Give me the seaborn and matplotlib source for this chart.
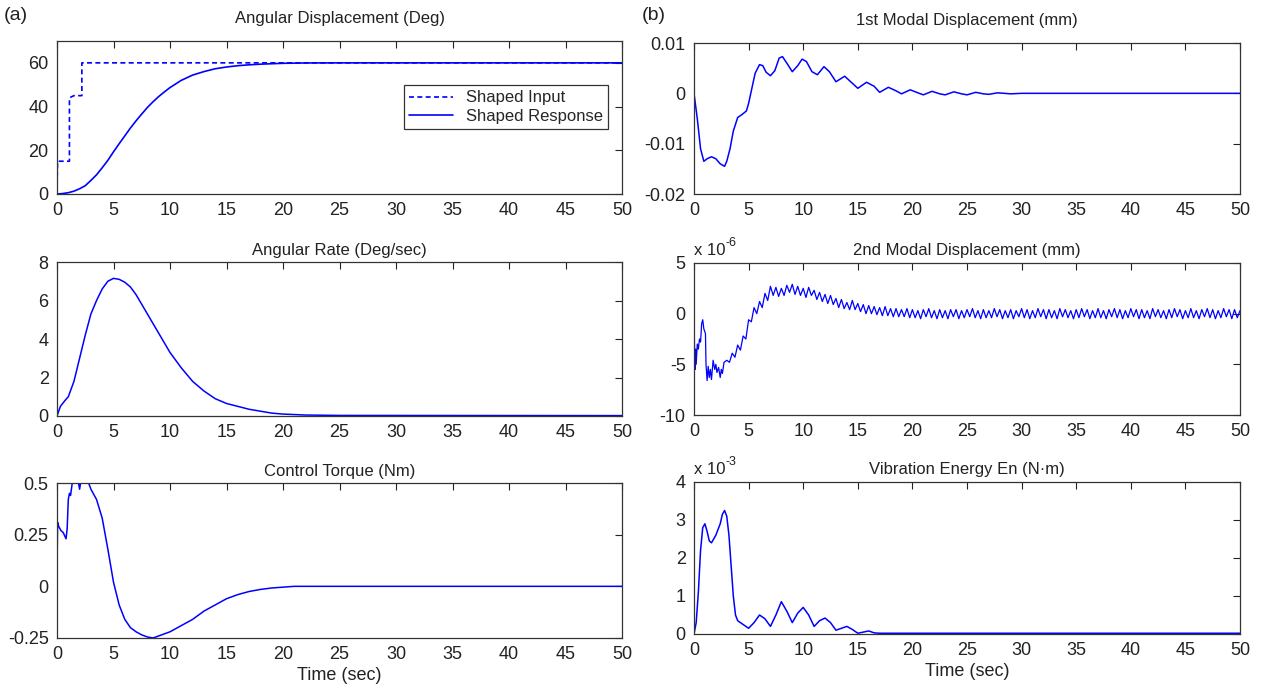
import numpy as np
import matplotlib
matplotlib.use("Agg")
import matplotlib.pyplot as plt
import seaborn as sns

# --- Data ---
XTICKS = list(range(0, 51, 5))

# Angular displacement (deg)
input_t = [0, 0.02, 0.05, 1.1, 1.1, 1.5, 2.2, 2.2, 50]
input_deg = [8, 8, 15, 15, 44, 45, 45, 60, 60]
resp_t = [0, 0.5, 1, 1.5, 2, 2.5, 3, 3.5, 4, 4.5, 5, 5.5, 6, 6.5, 7, 7.5, 8, 8.5, 9, 9.5,
          10, 11, 12, 13, 14, 15, 16, 17, 18, 19, 20, 22, 25, 50]
resp_deg = [0, 0.2, 0.6, 1.3, 2.4, 3.8, 6.2, 8.8, 12.0, 15.4, 19.3, 23.0, 26.6, 30.2, 33.5,
            36.6, 39.6, 42.2, 44.6, 46.7, 48.7, 52.0, 54.4, 56.0, 57.3, 58.1, 58.7, 59.1,
            59.4, 59.6, 59.8, 59.95, 60, 60]

# Angular rate (deg/sec)
rate_t = [0, 0.3, 0.7, 1, 1.5, 2, 2.5, 3, 3.5, 4, 4.5, 5, 5.5, 6, 6.5, 7, 7.5, 8, 8.5, 9,
          9.5, 10, 11, 12, 13, 14, 15, 16, 17, 18, 19, 20, 22, 25, 50]
rate_val = [0, 0.5, 0.8, 1.0, 1.8, 3.0, 4.2, 5.3, 6.0, 6.6, 7.0, 7.15, 7.1, 6.95, 6.7, 6.3,
            5.8, 5.3, 4.8, 4.3, 3.8, 3.3, 2.5, 1.8, 1.3, 0.9, 0.65, 0.5, 0.35, 0.25, 0.15,
            0.1, 0.05, 0.03, 0.02]

# Control torque (Nm)
torque_t = [0, 0.02, 0.05, 0.15, 0.35, 0.55, 0.8, 0.9, 1.0, 1.1, 1.2, 1.35, 1.6, 1.8, 2.0,
            2.2, 2.5, 2.8, 3.0, 3.5, 4.0, 4.5, 5.0, 5.5, 6.0, 6.5, 7.0, 7.5, 8.0, 8.5, 9.0,
            10, 11, 12, 13, 14, 15, 16, 17, 18, 19, 20, 21, 50]
torque_val = [0.17, 0.17, 0.31, 0.29, 0.27, 0.26, 0.23, 0.28, 0.42, 0.45, 0.44, 0.5, 0.55,
              0.53, 0.47, 0.54, 0.56, 0.5, 0.47, 0.42, 0.33, 0.18, 0.02, -0.09, -0.16,
              -0.2, -0.22, -0.235, -0.245, -0.25, -0.24, -0.22, -0.19, -0.16, -0.12,
              -0.09, -0.06, -0.04, -0.025, -0.015, -0.008, -0.004, 0, 0]

# 1st modal displacement (x 1e-3 mm)
modal1_t = [0, 0.3, 0.6, 0.9, 1.2, 1.6, 2.0, 2.4, 2.8, 3.0, 3.3, 3.6, 4.0, 4.4, 4.8, 5.0,
            5.3, 5.6, 6.0, 6.3, 6.6, 7.0, 7.4, 7.8, 8.1, 8.5, 9.0, 9.5, 9.9, 10.3, 10.8,
            11.3, 11.9, 12.4, 13.0, 13.8, 14.5, 15.0, 15.8, 16.5, 17.0, 17.8, 18.5, 19.0,
            19.8, 20.5, 21.0, 21.8, 22.5, 23.0, 23.8, 24.5, 25.0, 25.8, 26.5, 27.0, 27.8,
            29.0, 30.0, 50.0]
modal1_e3 = [0, -5, -11, -13.5, -13, -12.6, -13, -14, -14.5, -13.5, -11, -7.5, -4.8, -4.2,
             -3.5, -2, 1, 4, 5.7, 5.5, 4.2, 3.5, 4.5, 7.0, 7.3, 6.0, 4.3, 5.5, 6.8, 6.3,
             4.3, 3.7, 5.3, 4.3, 2.3, 3.4, 2.0, 1.0, 2.2, 1.4, 0.2, 1.2, 0.5, -0.1, 0.7,
             0.1, -0.3, 0.4, -0.1, -0.3, 0.3, -0.1, -0.3, 0.2, -0.1, -0.2, 0.1, -0.1, 0, 0]

# 2nd modal displacement (x 1e-6 mm)
modal2_early_t = [0, 0.05, 0.1, 0.15, 0.2, 0.3, 0.4, 0.5, 0.6, 0.7, 0.8, 0.9, 1.0, 1.05,
                  1.1, 1.2, 1.3, 1.4, 1.5, 1.6, 1.75, 1.9, 2.0, 2.1, 2.25, 2.4, 2.5, 2.6,
                  2.75]
modal2_early = [0, -3.5, -5.5, -3.5, -5, -3, -3.5, -2.5, -2.8, -1, -0.6, -1.5, -1.8, -2,
                -5, -6.6, -5.2, -6.3, -5.5, -6.5, -4.6, -5.5, -5.0, -5.8, -5.3, -6.3,
                -5.5, -5.9, -4.8]
modal2_late_t = np.arange(3.0, 50.001, 0.25)
modal2_late = [
    -4.6, -4.8, -3.9, -4.3, -3.1, -3.6, -2.2, -2.5, -0.6, -0.8, 0.6, 0.0, 1.2, 0.6, 2.0,
    1.3, 2.7, 1.8, 2.6, 1.7, 2.5, 1.8, 2.8, 2.1, 2.9, 1.9, 2.7, 1.8, 2.5, 1.6, 2.6, 1.8,
    2.3, 1.4, 2.1, 1.2, 1.9, 1.0, 1.8, 0.9, 1.5, 0.6, 1.4, 0.5, 1.1, 0.4, 1.3, 0.4, 1.0,
    0.2, 0.9, 0.0, 0.8, 0.0, 0.7, -0.1, 0.6, -0.2, 0.7, -0.2, 0.5, -0.3, 0.5, -0.3, 0.4,
    -0.3, 0.5, -0.4, 0.4,
    -0.4, 0.3, -0.5, 0.4, -0.3, 0.5, -0.4, 0.3, -0.5, 0.4, -0.4, 0.3, -0.5, 0.4, -0.3, 0.4, -0.5, 0.3, -0.4, 0.4,
    -0.3, 0.5, -0.4, 0.3, -0.5, 0.4, -0.4, 0.3, -0.4, 0.5, -0.3, 0.4, -0.5, 0.3, -0.4, 0.4, -0.5, 0.3, -0.3, 0.5,
    -0.4, 0.4, -0.5, 0.3, -0.4, 0.5, -0.3, 0.4, -0.5, 0.4, -0.4, 0.3, -0.5, 0.5, -0.3, 0.4, -0.4, 0.3, -0.5, 0.4,
    -0.4, 0.5, -0.3, 0.4, -0.5, 0.3, -0.4, 0.5, -0.4, 0.3, -0.5, 0.4, -0.3, 0.5, -0.4, 0.4, -0.5, 0.3, -0.4, 0.5,
    -0.3, 0.4, -0.5, 0.4, -0.4, 0.3, -0.5, 0.5, -0.3, 0.4, -0.4, 0.3, -0.5, 0.4, -0.4, 0.5, -0.3, 0.4, -0.5, 0.3,
    -0.4, 0.5, -0.4, 0.3, -0.5, 0.4, -0.3, 0.5, -0.4, 0.4, -0.5, 0.3, -0.4, 0.5, -0.3, 0.4, -0.5, 0.4, -0.4, 0.3,
]

# Vibration energy (x 1e-3 N*m)
energy_t = [0, 0.2, 0.4, 0.6, 0.8, 1.0, 1.2, 1.4, 1.6, 1.8, 2.0, 2.2, 2.4, 2.6, 2.8, 3.0,
            3.2, 3.4, 3.6, 3.8, 4.0, 4.5, 5.0, 5.5, 6.0, 6.5, 7.0, 7.5, 8.0, 8.5, 9.0, 9.5,
            10.0, 10.5, 11.0, 11.5, 12.0, 12.5, 13.0, 13.5, 14.0, 14.5, 15.0, 15.5, 16.0,
            16.5, 17.0, 50.0]
energy_e3 = [0, 0.3, 1.1, 2.2, 2.8, 2.9, 2.7, 2.45, 2.4, 2.5, 2.6, 2.75, 2.9, 3.15, 3.25,
             3.1, 2.6, 1.8, 1.0, 0.5, 0.35, 0.25, 0.15, 0.3, 0.5, 0.4, 0.2, 0.5, 0.85, 0.6,
             0.3, 0.55, 0.7, 0.5, 0.2, 0.35, 0.42, 0.3, 0.1, 0.15, 0.2, 0.12, 0.02, 0.05,
             0.08, 0.03, 0.02, 0.02]

# --- Styling ---
BLUE = "#0000ff"
INK = "#222222"
W, H = 1267, 700
sns.set_style("white")
plt.rcParams["font.family"] = ["Liberation Sans", "DejaVu Sans"]
plt.rcParams["axes.unicode_minus"] = False


def box(px_left, px_top, px_right, px_bottom):
    return [px_left / W, 1 - px_bottom / H, (px_right - px_left) / W, (px_bottom - px_top) / H]


def style_axis(ax, ylim, yticks, yticklabels, title, title_pad):
    ax.set_xlim(0, 50)
    ax.set_ylim(*ylim)
    ax.set_xticks(XTICKS)
    ax.set_xticklabels([str(v) for v in XTICKS])
    ax.set_yticks(yticks)
    ax.set_yticklabels(yticklabels)
    ax.tick_params(direction="in", top=True, right=True, length=5, width=0.8,
                   labelsize=13, pad=6, colors=INK)
    for s in ax.spines.values():
        s.set_color("#333333")
        s.set_linewidth(0.9)
    ax.set_title(title, fontsize=12, pad=title_pad, color=INK)
    ax.set_xlabel("")
    ax.set_ylabel("")


def exponent_label(ax, power):
    # MATLAB-style "x 10^-n" above the top-left corner of the axes
    ax.text(0.0, 1.03, "x 10", transform=ax.transAxes, fontsize=12,
            ha="left", va="bottom", color=INK)
    ax.text(0.058, 1.09, power, transform=ax.transAxes, fontsize=9,
            ha="left", va="bottom", color=INK)


def line(ax, x, y, **kw):
    sns.lineplot(x=np.asarray(x, float), y=np.asarray(y, float), ax=ax, color=BLUE,
                 estimator=None, sort=False, **kw)


fig = plt.figure(figsize=(W / 100, H / 100), dpi=100)

# (a) column
ax1 = fig.add_axes(box(57, 41, 622, 194))
line(ax1, input_t, input_deg, linewidth=1.2, linestyle=(0, (3, 2)), label="Shaped Input")
line(ax1, resp_t, resp_deg, linewidth=1.2, label="Shaped Response")
style_axis(ax1, (0, 70), [0, 20, 40, 60], ["0", "20", "40", "60"],
           "Angular Displacement (Deg)", 13)
leg = ax1.legend(loc="upper right", bbox_to_anchor=(0.975, 0.71), fontsize=12,
                 frameon=True, fancybox=False, handlelength=2.6, borderpad=0.3,
                 labelspacing=0.2, handletextpad=0.8, borderaxespad=0)
leg.get_frame().set_edgecolor("black")
leg.get_frame().set_linewidth(0.9)

ax2 = fig.add_axes(box(57, 262, 622, 416))
line(ax2, rate_t, rate_val, linewidth=1.1)
style_axis(ax2, (0, 8), [0, 2, 4, 6, 8], ["0", "2", "4", "6", "8"],
           "Angular Rate (Deg/sec)", 5)

ax3 = fig.add_axes(box(57, 483, 622, 638))
line(ax3, torque_t, torque_val, linewidth=1.1)
style_axis(ax3, (-0.25, 0.5), [-0.25, 0, 0.25, 0.5], ["-0.25", "0", "0.25", "0.5"],
           "Control Torque (Nm)", 5)
ax3.set_xlabel("Time (sec)", fontsize=13, labelpad=3, color=INK)

# (b) column
ax4 = fig.add_axes(box(694, 43, 1240, 194))
line(ax4, modal1_t, np.asarray(modal1_e3) * 1e-3, linewidth=1.1)
style_axis(ax4, (-0.02, 0.01), [-0.02, -0.01, 0, 0.01], ["-0.02", "-0.01", "0", "0.01"],
           "1st Modal Displacement (mm)", 13)

ax5 = fig.add_axes(box(694, 263, 1240, 415))
line(ax5, list(modal2_early_t) + list(modal2_late_t), modal2_early + modal2_late,
     linewidth=0.9)
style_axis(ax5, (-10, 5), [-10, -5, 0, 5], ["-10", "-5", "0", "5"],
           "2nd Modal Displacement (mm)", 6)
exponent_label(ax5, "-6")

ax6 = fig.add_axes(box(694, 482, 1240, 634))
line(ax6, energy_t, energy_e3, linewidth=1.1)
style_axis(ax6, (0, 4), [0, 1, 2, 3, 4], ["0", "1", "2", "3", "4"],
           "Vibration Energy En (N\u00b7m)", 6)
exponent_label(ax6, "-3")
ax6.set_xlabel("Time (sec)", fontsize=13, labelpad=3, color=INK)

fig.text(4 / W, 1 - 16 / H, "(a)", fontsize=14, ha="left", va="center", color=INK)
fig.text(642 / W, 1 - 16 / H, "(b)", fontsize=14, ha="left", va="center", color=INK)

fig.savefig("out.png", dpi=100)
